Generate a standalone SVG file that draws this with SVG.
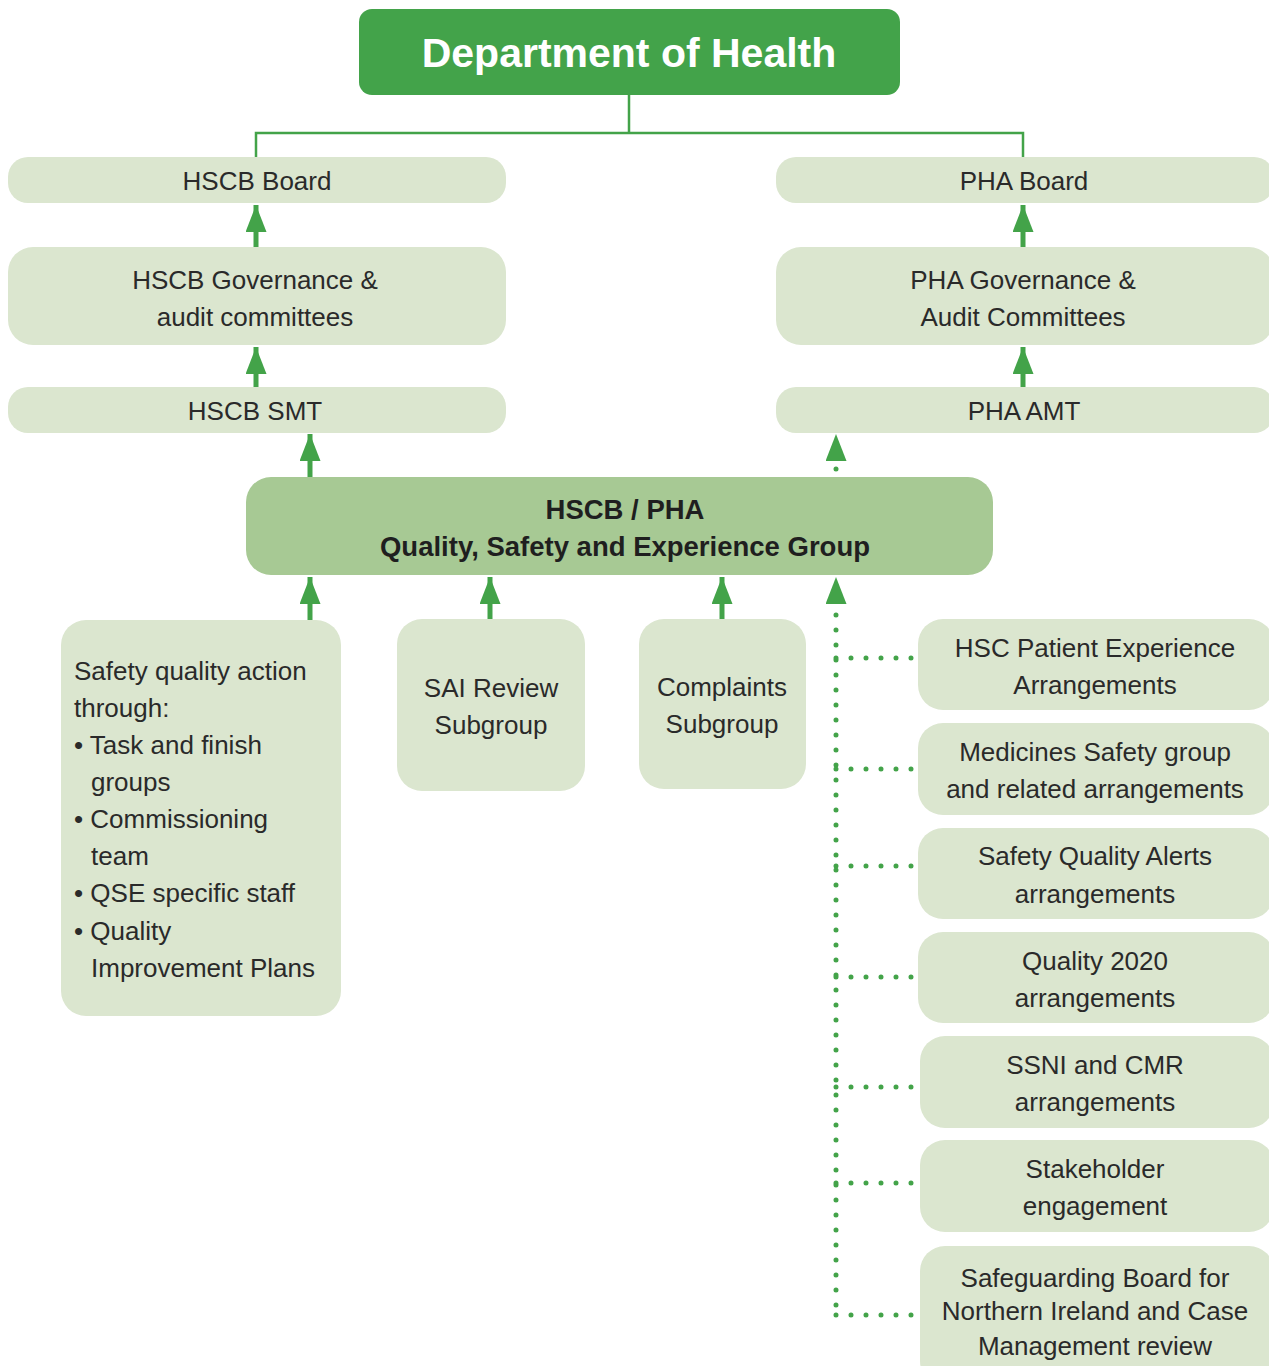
<svg xmlns="http://www.w3.org/2000/svg" width="1269" height="1366" viewBox="0 0 1269 1366">
<style>
.lt{fill:#dbe6cf}
.t{font-family:"Liberation Sans",Arial,sans-serif;font-size:26px;fill:#2a2a2a;text-anchor:middle}
.tl{font-family:"Liberation Sans",Arial,sans-serif;font-size:26px;fill:#2a2a2a}
.b{font-family:"Liberation Sans",Arial,sans-serif;font-weight:bold;font-size:27.5px;fill:#1f1f1f;text-anchor:middle}
.sh{stroke:#43a349;stroke-width:5;fill:none}
.dot{stroke:#43a349;stroke-width:5;fill:none;stroke-dasharray:0 15;stroke-linecap:round}
</style>
<defs>
<marker id="ah" viewBox="0 0 27 21" refX="27" refY="10.5" markerWidth="27" markerHeight="21" markerUnits="userSpaceOnUse" orient="auto">
<path d="M0,0 L27,10.5 L0,21 z" fill="#43a349"/>
</marker>
</defs>
<g id="connectors">
<path d="M629,95 V133 M256,157 V133 H1023 V157" stroke="#43a349" stroke-width="2.5" fill="none"/>
<line class="sh" x1="256" y1="247" x2="256" y2="205" marker-end="url(#ah)"/>
<line class="sh" x1="256" y1="387" x2="256" y2="347" marker-end="url(#ah)"/>
<line class="sh" x1="1023" y1="247" x2="1023" y2="205" marker-end="url(#ah)"/>
<line class="sh" x1="1023" y1="387" x2="1023" y2="347" marker-end="url(#ah)"/>
<line class="sh" x1="310" y1="477" x2="310" y2="434" marker-end="url(#ah)"/>
<line class="sh" x1="310" y1="620" x2="310" y2="577" marker-end="url(#ah)"/>
<line class="sh" x1="490" y1="619" x2="490" y2="577" marker-end="url(#ah)"/>
<line class="sh" x1="722" y1="619" x2="722" y2="577" marker-end="url(#ah)"/>
<line x1="836" y1="462" x2="836" y2="434" stroke="none" marker-end="url(#ah)"/>
<circle cx="836" cy="469" r="2.5" fill="#43a349"/>
<line x1="836" y1="605" x2="836" y2="577" stroke="none" marker-end="url(#ah)"/>
<path class="dot" d="M836,615 V1315"/>
<path class="dot" d="M836,658 H912 M836,769 H912 M836,866 H912 M836,977 H912 M836,1087 H912 M836,1183 H912 M836,1315 H912"/>
</g>
<g id="doh">
<rect x="359" y="9" width="541" height="86" rx="13" fill="#43a34a"/>
<text x="629" y="67" font-family="Liberation Sans,Arial,sans-serif" font-weight="bold" font-size="41" fill="#ffffff" text-anchor="middle">Department of Health</text>
</g>
<g id="hscb-board"><rect class="lt" x="8" y="157" width="498" height="46" rx="20"/><text class="t" x="257" y="190">HSCB Board</text></g>
<g id="hscb-gov"><rect class="lt" x="8" y="247" width="498" height="98" rx="25"/><text class="t" x="255" y="289">HSCB Governance &amp;</text><text class="t" x="255" y="326">audit committees</text></g>
<g id="hscb-smt"><rect class="lt" x="8" y="387" width="498" height="46" rx="20"/><text class="t" x="255" y="420">HSCB SMT</text></g>
<g id="pha-board"><rect class="lt" x="776" y="157" width="498" height="46" rx="20"/><text class="t" x="1024" y="190">PHA Board</text></g>
<g id="pha-gov"><rect class="lt" x="776" y="247" width="498" height="98" rx="25"/><text class="t" x="1023" y="289">PHA Governance &amp;</text><text class="t" x="1023" y="326">Audit Committees</text></g>
<g id="pha-amt"><rect class="lt" x="776" y="387" width="498" height="46" rx="20"/><text class="t" x="1024" y="420">PHA AMT</text></g>
<g id="qse"><rect x="246" y="477" width="747" height="98" rx="25" fill="#a7c994"/><text class="b" x="625" y="519">HSCB / PHA</text><text class="b" x="625" y="556">Quality, Safety and Experience Group</text></g>
<g id="safety-action"><rect class="lt" x="61" y="620" width="280" height="396" rx="25"/>
<text class="tl" x="74" y="680">Safety quality action</text>
<text class="tl" x="74" y="717">through:</text>
<text class="tl" x="74" y="754">• Task and finish</text>
<text class="tl" x="91" y="791">groups</text>
<text class="tl" x="74" y="828">• Commissioning</text>
<text class="tl" x="91" y="865">team</text>
<text class="tl" x="74" y="902">• QSE specific staff</text>
<text class="tl" x="74" y="940">• Quality</text>
<text class="tl" x="91" y="977">Improvement Plans</text>
</g>
<g id="sai"><rect class="lt" x="397" y="619" width="188" height="172" rx="25"/><text class="t" x="491" y="697">SAI Review</text><text class="t" x="491" y="734">Subgroup</text></g>
<g id="complaints"><rect class="lt" x="639" y="619" width="167" height="170" rx="25"/><text class="t" x="722" y="696">Complaints</text><text class="t" x="722" y="733">Subgroup</text></g>
<g id="patient-exp"><rect class="lt" x="918" y="619" width="356" height="91" rx="25"/><text class="t" x="1095" y="657">HSC Patient Experience</text><text class="t" x="1095" y="694">Arrangements</text></g>
<g id="medicines"><rect class="lt" x="918" y="723" width="356" height="92" rx="25"/><text class="t" x="1095" y="761">Medicines Safety group</text><text class="t" x="1095" y="798">and related arrangements</text></g>
<g id="alerts"><rect class="lt" x="918" y="828" width="356" height="91" rx="25"/><text class="t" x="1095" y="865">Safety Quality Alerts</text><text class="t" x="1095" y="903">arrangements</text></g>
<g id="quality2020"><rect class="lt" x="918" y="932" width="356" height="91" rx="25"/><text class="t" x="1095" y="970">Quality 2020</text><text class="t" x="1095" y="1007">arrangements</text></g>
<g id="ssni"><rect class="lt" x="920" y="1036" width="354" height="92" rx="25"/><text class="t" x="1095" y="1074">SSNI and CMR</text><text class="t" x="1095" y="1111">arrangements</text></g>
<g id="stakeholder"><rect class="lt" x="920" y="1140" width="354" height="92" rx="25"/><text class="t" x="1095" y="1178">Stakeholder</text><text class="t" x="1095" y="1215">engagement</text></g>
<g id="safeguarding"><rect class="lt" x="920" y="1246" width="354" height="140" rx="25"/><text class="t" x="1095" y="1287">Safeguarding Board for</text><text class="t" x="1095" y="1320">Northern Ireland and Case</text><text class="t" x="1095" y="1355">Management review</text></g>
</svg>
